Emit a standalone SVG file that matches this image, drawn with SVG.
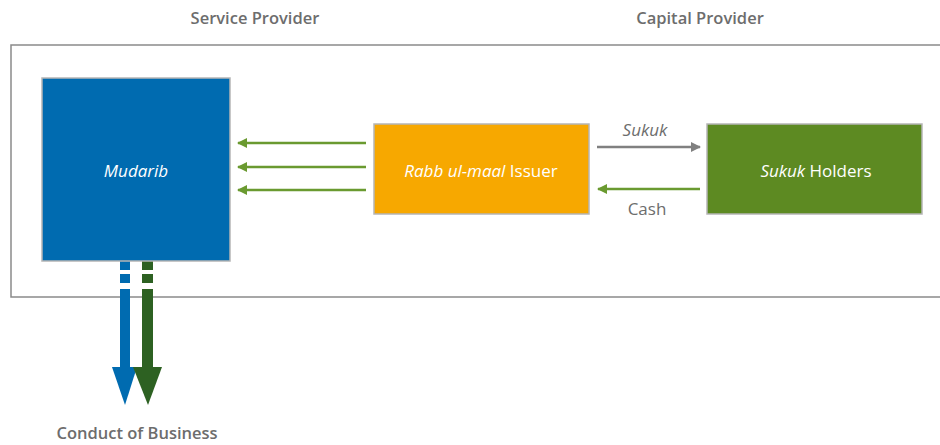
<svg xmlns="http://www.w3.org/2000/svg" width="940" height="445" viewBox="0 0 940 445">
<style>
.hdr{font-family:"Open Sans","Liberation Sans",sans-serif;font-weight:600;font-size:16.5px;fill:#6d6d6d;text-anchor:middle}
.lbl{font-family:"Open Sans","Liberation Sans",sans-serif;font-size:17px;fill:#ffffff;text-anchor:middle}
.sm{font-family:"Open Sans","Liberation Sans",sans-serif;font-size:17px;fill:#6d6d6d;text-anchor:middle}
.node{stroke:#b5b5b5;stroke-width:1.5}
</style>
<defs>
<marker id="ag" markerWidth="10" markerHeight="10" refX="9" refY="5" orient="auto" markerUnits="userSpaceOnUse"><path d="M0,0 L10,5 L0,10 Z" fill="#6a9a30"/></marker>
<marker id="ay" markerWidth="10" markerHeight="10" refX="9" refY="5" orient="auto" markerUnits="userSpaceOnUse"><path d="M0,0 L10,5 L0,10 Z" fill="#808080"/></marker>
</defs>
<rect x="11" y="45" width="940" height="252" fill="none" stroke="#8a8a8a" stroke-width="1.5"/>
<text class="hdr" x="255" y="24">Service Provider</text>
<text class="hdr" x="700" y="24">Capital Provider</text>
<g id="connectors">
<g stroke="#6a9a30" stroke-width="2.5" fill="none">
<line x1="366" y1="143" x2="238" y2="143" marker-end="url(#ag)"/>
<line x1="366" y1="167" x2="238" y2="167" marker-end="url(#ag)"/>
<line x1="366" y1="190" x2="238" y2="190" marker-end="url(#ag)"/>
<line x1="700" y1="189" x2="598" y2="189" marker-end="url(#ag)"/>
</g>
<line x1="597" y1="147" x2="700" y2="147" stroke="#808080" stroke-width="2.5" marker-end="url(#ay)"/>
<text class="sm" x="645" y="136" font-style="italic">Sukuk</text>
<text class="sm" x="647" y="215">Cash</text>
<g id="down-blue" fill="#006bb0">
<rect x="120" y="261" width="10" height="9"/>
<rect x="120" y="274" width="10" height="9"/>
<rect x="120" y="289" width="10" height="79"/>
<path d="M112,367 L137,367 L125,405 Z"/>
</g>
<g id="down-green" fill="#2d6122">
<rect x="142" y="261" width="11" height="9"/>
<rect x="142" y="274" width="11" height="9"/>
<rect x="142" y="289" width="11" height="79"/>
<path d="M133,367 L162,367 L148,405 Z"/>
</g>
<text class="hdr" x="137" y="439">Conduct of Business</text>
</g>
<g id="mudarib">
<rect class="node" x="42" y="78" width="188" height="183" fill="#006bb0"/>
<text class="lbl" x="136" y="177" font-style="italic">Mudarib</text>
</g>
<g id="rabb-ul-maal">
<rect class="node" x="374" y="124" width="215" height="90" fill="#f7a800"/>
<text class="lbl" x="481" y="177"><tspan font-style="italic">Rabb ul-maal</tspan> Issuer</text>
</g>
<g id="sukuk-holders">
<rect class="node" x="707" y="124" width="215" height="90" fill="#5d8a22"/>
<text class="lbl" x="816" y="177"><tspan font-style="italic">Sukuk</tspan> Holders</text>
</g>
</svg>
